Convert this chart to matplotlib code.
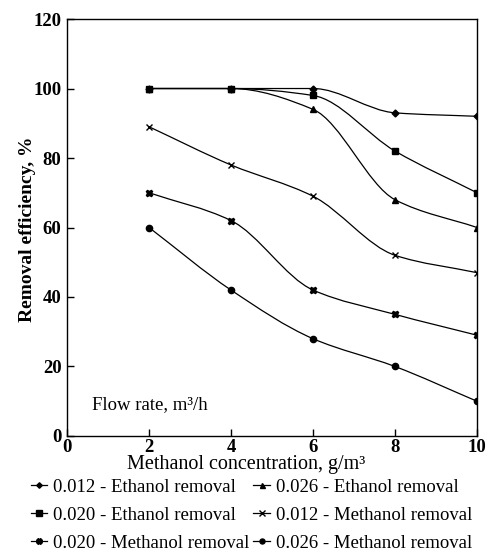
import numpy as np
import matplotlib
matplotlib.use("Agg")
import matplotlib.pyplot as plt
from matplotlib.path import Path
from matplotlib.patches import PathPatch
from matplotlib.lines import Line2D

plt.rcParams['font.family'] = ['Liberation Serif', 'DejaVu Serif']

# data
conc = [2, 4, 6, 8, 10]
eth_012 = [100, 100, 100, 93, 92]
eth_020 = [100, 100, 98, 82, 70]
eth_026 = [100, 100, 94, 68, 60]
meth_012 = [89, 78, 69, 52, 47]
meth_020 = [70, 62, 42, 35, 29]
meth_026 = [60, 42, 28, 20, 10]

labels = ['0.012 - Ethanol removal', '0.020 - Ethanol removal',
          '0.026 - Ethanol removal', '0.012 - Methanol removal',
          '0.020 - Methanol removal', '0.026 - Methanol removal']
markers = ['D', 's', '^', 'x', 'X', 'o']
msizes = [3.5, 5, 4.5, 5, 5, 4.5]


def smooth_path(x, y):
    # monotone cubic (Fritsch-Carlson) tangents, drawn as bezier segments
    x = np.asarray(x, float)
    y = np.asarray(y, float)
    h = np.diff(x)
    d = np.diff(y) / h
    m = np.zeros_like(y)
    m[0], m[-1] = d[0], d[-1]
    for i in range(1, len(y) - 1):
        if d[i - 1] * d[i] <= 0:
            m[i] = 0
        else:
            m[i] = 2 / (1 / d[i - 1] + 1 / d[i])
    verts = [(x[0], y[0])]
    codes = [Path.MOVETO]
    for i in range(len(x) - 1):
        verts += [(x[i] + h[i] / 3, y[i] + m[i] * h[i] / 3),
                  (x[i + 1] - h[i] / 3, y[i + 1] - m[i + 1] * h[i] / 3),
                  (x[i + 1], y[i + 1])]
        codes += [Path.CURVE4] * 3
    return Path(verts, codes)


fig = plt.figure(figsize=(4.88, 5.53), dpi=100)
ax = fig.add_axes([0.1373, 0.2116, 0.8402, 0.754])

series = [eth_012, eth_020, eth_026, meth_012, meth_020, meth_026]
handles = []
for vals, mk, ms, lab in zip(series, markers, msizes, labels):
    ax.add_patch(PathPatch(smooth_path(conc, vals), fill=False,
                           edgecolor='black', lw=0.9))
    ax.plot(conc, vals, linestyle='none', marker=mk, ms=ms, color='black',
            mew=1.0)
    handles.append(Line2D([], [], color='black', lw=0.9, marker=mk,
                          ms=ms * 0.8, label=lab))

ax.set_xlim(0, 10)
ax.set_ylim(0, 120)
ax.set_xticks([0, 2, 4, 6, 8, 10])
ax.set_yticks([0, 20, 40, 60, 80, 100, 120])
ax.tick_params(direction='in', length=5, width=1, labelsize=13.5, pad=4)
ax.tick_params(axis='x', pad=2)
for t in ax.get_xticklabels() + ax.get_yticklabels():
    t.set_fontweight('bold')
for s in ax.spines.values():
    s.set_linewidth(1.0)

ax.set_xlabel('Methanol concentration, g/m³', fontsize=14.5, va='top')
ax.xaxis.set_label_coords(0.437, -0.046)
ax.set_ylabel('Removal efficiency, %', fontsize=14, fontweight='bold')
ax.yaxis.set_label_coords(-0.075, 0.495)
ax.text(0.6, 9, 'Flow rate, m³/h', fontsize=13.5, va='center', ha='left')

order = [0, 1, 4, 2, 3, 5]
fig.legend([handles[i] for i in order], [labels[i] for i in order],
           ncol=2, loc='upper center', bbox_to_anchor=(0.515, 0.151),
           frameon=False, fontsize=13.5, handlelength=0.9, handletextpad=0.3,
           columnspacing=0.2, labelspacing=0.58, borderpad=0.0)

fig.savefig('out.png', dpi=100)
